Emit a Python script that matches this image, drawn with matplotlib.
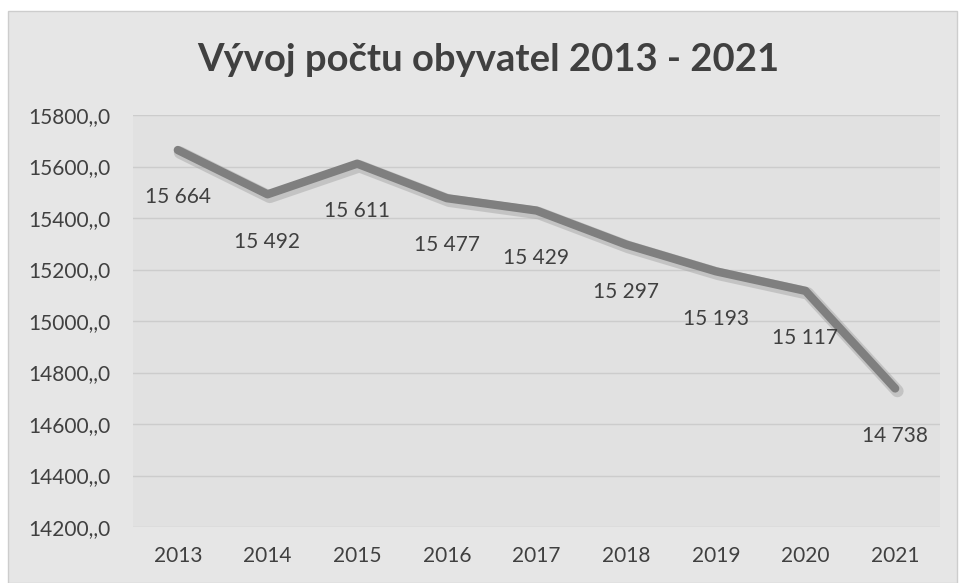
import matplotlib.pyplot as plt
import matplotlib.patches as patches
from matplotlib.ticker import FuncFormatter
import numpy as np

# data
roky = ['2013', '2014', '2015', '2016', '2017', '2018', '2019', '2020', '2021']
obyvatele = [15664, 15492, 15611, 15477, 15429, 15297, 15193, 15117, 14738]
titulek = 'Vývoj počtu obyvatel 2013 - 2021'

plt.rcParams['font.family'] = ['Lato', 'DejaVu Sans']

fig = plt.figure(figsize=(9.61, 5.83), dpi=100)
fig.patch.set_facecolor('white')
# chart area s ramcem
ramec = patches.Rectangle((8 / 961, 0), 949 / 961, 1 - 11 / 583, transform=fig.transFigure,
                          facecolor='#e6e6e6', edgecolor='#cdcdcd', linewidth=1, zorder=-5)
fig.patches.append(ramec)

ax = fig.add_axes([133 / 961, 1 - 527 / 583, (940 - 133) / 961, (527 - 115) / 583])
ax.set_facecolor('#e1e1e1')
x = np.arange(len(roky))

# stin cary
ax.plot(x + 0.025, np.array(obyvatele) - 10, color='#a0a0a0', lw=9, alpha=0.45,
        solid_capstyle='round', solid_joinstyle='round', zorder=2)
ax.plot(x, obyvatele, color='#7f7f7f', lw=6, solid_capstyle='round',
        solid_joinstyle='round', zorder=3)

for xi, v in zip(x, obyvatele):
    txt = f"{v:,}".replace(',', ' ')
    ax.annotate(txt, (xi, v), xytext=(0, -34), textcoords='offset points',
                ha='center', va='center', fontsize=15, color='#404040', zorder=4)

ax.set_ylim(14200, 15800)
ax.set_xlim(-0.5, len(roky) - 0.5)
ax.set_yticks(np.arange(14200, 15801, 200))
ax.yaxis.set_major_formatter(FuncFormatter(lambda v, p: f"{v:.0f},,0"))
ax.set_xticks(x)
ax.set_xticklabels(roky)
ax.tick_params(length=0, labelsize=15, colors='#404040')
ax.tick_params(axis='y', pad=16)
ax.tick_params(axis='x', pad=14)
ax.grid(axis='y', color='#cccccc', lw=1)
ax.set_axisbelow(True)
for s in ax.spines.values():
    s.set_visible(False)

fig.text(488 / 961, 1 - 60 / 583, titulek, ha='center', va='center', fontsize=27.5,
         fontweight='bold', color='#404040')

fig.savefig('out.png', dpi=100)
